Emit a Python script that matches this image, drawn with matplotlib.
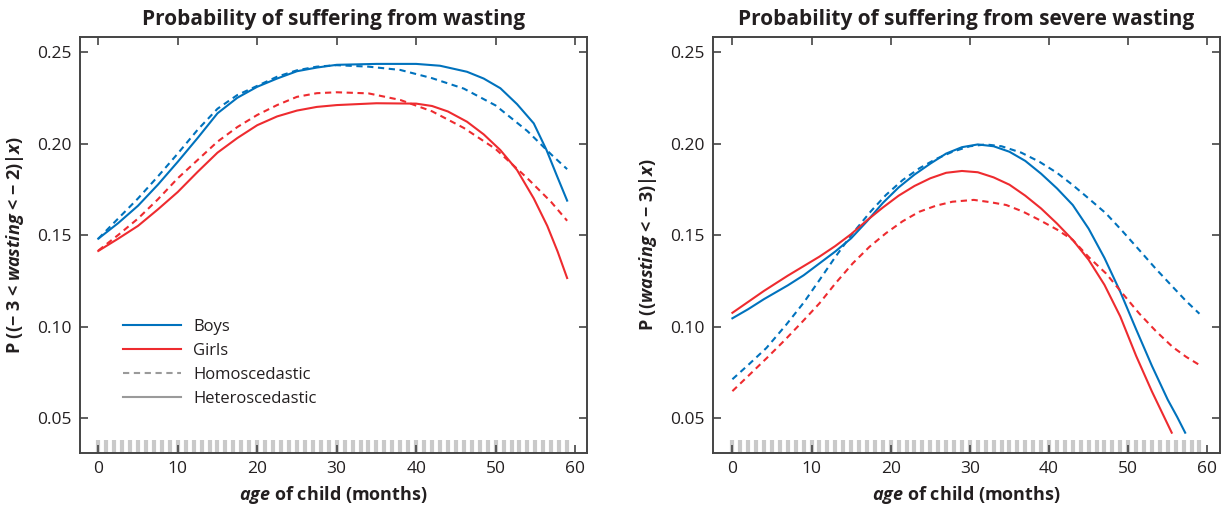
import matplotlib
matplotlib.use("Agg")
import matplotlib.pyplot as plt
from matplotlib.lines import Line2D

plt.rcParams['font.family'] = ['Open Sans', 'DejaVu Sans']
plt.rcParams['mathtext.fontset'] = 'custom'
plt.rcParams['mathtext.rm'] = 'Open Sans'
plt.rcParams['mathtext.bf'] = 'Open Sans:bold'
plt.rcParams['mathtext.it'] = 'Open Sans:italic'
plt.rcParams['mathtext.bfit'] = 'Open Sans:bold:italic'

# ---------------- data ----------------
# Left panel: probability of wasting
w_boys_het_x = [0, 2.5, 5, 7.5, 10, 12.5, 15, 17.5, 20, 22.5, 25, 27.5, 30, 35, 40, 43, 46.4, 48.5, 50.6, 52.7, 54.8, 56.4, 57.7, 59]
w_boys_het_y = [0.148, 0.1565, 0.166, 0.1775, 0.190, 0.203, 0.2165, 0.225, 0.231, 0.2355, 0.2395, 0.2415, 0.243, 0.2435, 0.2435, 0.2425, 0.2392, 0.2355, 0.2302, 0.2215, 0.211, 0.1965, 0.1825, 0.1688]
w_boys_hom_x = [0, 2.5, 5, 7.5, 10, 12.5, 15, 17.5, 20, 22.5, 25, 27.5, 30, 34, 38, 42, 46, 50, 54, 57, 59]
w_boys_hom_y = [0.148, 0.159, 0.170, 0.182, 0.1945, 0.2075, 0.219, 0.2265, 0.2315, 0.2365, 0.240, 0.242, 0.2428, 0.242, 0.2402, 0.2357, 0.230, 0.2208, 0.2068, 0.194, 0.186]
w_girls_het_x = [0, 2.5, 5, 7.5, 10, 12.5, 15, 17.5, 20, 22.5, 25, 27.5, 30, 35, 40, 42, 44, 46.4, 48.5, 50.6, 52.7, 54.8, 56.5, 57.8, 59]
w_girls_het_y = [0.1413, 0.148, 0.155, 0.164, 0.1735, 0.1845, 0.195, 0.203, 0.210, 0.2148, 0.218, 0.220, 0.221, 0.222, 0.2218, 0.2205, 0.2175, 0.2119, 0.205, 0.1964, 0.1855, 0.170, 0.155, 0.141, 0.1265]
w_girls_hom_x = [0, 2.5, 5, 7.5, 10, 12.5, 15, 17.5, 20, 22.5, 25, 27.5, 30, 34, 38, 42, 46, 50, 54, 57, 59]
w_girls_hom_y = [0.1415, 0.150, 0.159, 0.1695, 0.181, 0.191, 0.201, 0.209, 0.2156, 0.221, 0.2255, 0.2275, 0.228, 0.2274, 0.2238, 0.2176, 0.2085, 0.197, 0.181, 0.168, 0.1578]

# Right panel: probability of severe wasting
s_boys_het_x = [0, 2, 4, 7, 9, 11, 13, 15, 17, 19, 21, 23, 25, 27, 29, 31, 33, 35, 37, 39, 41, 43, 45, 47, 49, 51, 53, 55, 56.2, 57.2]
s_boys_het_y = [0.1045, 0.1095, 0.1150, 0.1225, 0.128, 0.1345, 0.141, 0.1482, 0.1575, 0.1675, 0.176, 0.1830, 0.189, 0.1945, 0.198, 0.1995, 0.1985, 0.1955, 0.1905, 0.1835, 0.1755, 0.1664, 0.1535, 0.1375, 0.119, 0.0985, 0.0785, 0.0600, 0.0505, 0.042]
s_boys_hom_x = [0, 2, 4.3, 6.8, 9, 11, 13, 15.2, 17.5, 19.4, 21.5, 23.6, 25.7, 27.8, 30, 32, 34, 36.5, 38.8, 41, 43, 45, 47.2, 49.3, 51.4, 53.5, 55.6, 57.3, 59]
s_boys_hom_y = [0.0712, 0.079, 0.0883, 0.101, 0.113, 0.1254, 0.138, 0.151, 0.163, 0.1719, 0.180, 0.1864, 0.1915, 0.1955, 0.1985, 0.1995, 0.1985, 0.195, 0.190, 0.184, 0.1773, 0.170, 0.1618, 0.152, 0.1418, 0.1315, 0.1218, 0.114, 0.107]
s_girls_het_x = [0, 2, 4, 7, 9, 11, 13, 15, 17, 19, 21, 23, 25, 27, 29, 31, 33, 35, 37, 39, 41, 43, 45, 47, 49, 51, 53, 55.5]
s_girls_het_y = [0.1075, 0.1135, 0.1195, 0.1278, 0.133, 0.1382, 0.144, 0.1505, 0.158, 0.1650, 0.1715, 0.1768, 0.1810, 0.1840, 0.185, 0.1843, 0.1815, 0.1775, 0.1715, 0.1645, 0.1563, 0.1473, 0.1365, 0.1228, 0.1055, 0.0840, 0.0645, 0.042]
s_girls_hom_x = [0, 2, 4.3, 6.6, 8.9, 11, 13, 15.2, 17.3, 19.4, 21.5, 23.6, 25.7, 27.8, 30.5, 32.5, 34.6, 36.7, 38.8, 41, 43, 45, 47.2, 49.3, 51.4, 53.5, 55.6, 57.3, 59]
s_girls_hom_y = [0.0647, 0.073, 0.0826, 0.0925, 0.1029, 0.1127, 0.1235, 0.1345, 0.1435, 0.151, 0.1575, 0.1627, 0.166, 0.1682, 0.1692, 0.168, 0.1664, 0.1628, 0.1582, 0.153, 0.1473, 0.138, 0.129, 0.118, 0.1071, 0.0975, 0.0889, 0.0835, 0.079]

rug_months = list(range(60))

titles = ["Probability of suffering from wasting", "Probability of suffering from severe wasting"]
ylabels = ["P ((\u2212 3 < $\\mathbfit{wasting}$ < \u2212 2)|$\\mathbfit{x}$)",
           "P (($\\mathbfit{wasting}$ < \u2212 3)|$\\mathbfit{x}$)"]
xlabel = "$\\mathbfit{age}$ of child (months)"
xticks = [0, 10, 20, 30, 40, 50, 60]
yticks = [0.05, 0.10, 0.15, 0.20, 0.25]
legend_labels = ["Boys", "Girls", "Homoscedastic", "Heteroscedastic"]

BLUE = "#0072BD"
RED = "#EE2B2F"
GRAY = "#9a9a9a"
RUG = "#c9c9c9"
SPINE = "#444444"
TXT = "#231f20"

fig = plt.figure(figsize=(12.26, 5.08), dpi=100)
W, H = 1226, 508
axL = fig.add_axes([80 / W, 1 - 453 / H, (587 - 80) / W, (453 - 37) / H])
axR = fig.add_axes([713 / W, 1 - 453 / H, (1220 - 713) / W, (453 - 37) / H])

YLO, YHI = 0.0309, 0.2582
panels = [
    (axL, [(w_boys_het_x, w_boys_het_y, BLUE, '-'), (w_boys_hom_x, w_boys_hom_y, BLUE, '--'),
           (w_girls_het_x, w_girls_het_y, RED, '-'), (w_girls_hom_x, w_girls_hom_y, RED, '--')]),
    (axR, [(s_boys_het_x, s_boys_het_y, BLUE, '-'), (s_boys_hom_x, s_boys_hom_y, BLUE, '--'),
           (s_girls_het_x, s_girls_het_y, RED, '-'), (s_girls_hom_x, s_girls_hom_y, RED, '--')]),
]
xl = [(-2.3, 61.5), (-2.45, 61.6)]

for i, (ax, series) in enumerate(panels):
    ax.vlines(rug_months, YLO, 0.0378, colors=RUG, linewidth=3.0, zorder=1)
    for xs, ys, c, ls in series:
        if ls == '--':
            ax.plot(xs, ys, color=c, lw=1.5, ls=(0, (3, 2.2)), zorder=3)
        else:
            ax.plot(xs, ys, color=c, lw=1.5, ls='-', zorder=3)
    ax.set_xlim(*xl[i])
    ax.set_ylim(YLO, YHI)
    ax.set_xticks(xticks)
    ax.set_yticks(yticks)
    ax.set_yticklabels([f"{v:.2f}" for v in yticks])
    ax.tick_params(direction='in', length=6, width=1.2, color=SPINE, labelsize=12.5,
                   labelcolor=TXT, top=True, right=True, pad=6)
    for s in ax.spines.values():
        s.set_color(SPINE)
        s.set_linewidth(1.4)
    ax.set_title(titles[i], fontsize=15, fontweight='bold', color=TXT, pad=9)
    ax.set_xlabel(xlabel, fontsize=13, fontweight='bold', color=TXT, labelpad=5)
    ax.set_ylabel(ylabels[i], fontsize=13, fontweight='bold', color=TXT, labelpad=8)

handles = [Line2D([], [], color=BLUE, lw=1.5),
           Line2D([], [], color=RED, lw=1.5),
           Line2D([], [], color=GRAY, lw=1.5, ls=(0, (3, 2.2))),
           Line2D([], [], color=GRAY, lw=1.5)]
leg = axL.legend(handles, legend_labels, loc='upper left', bbox_to_anchor=(0.085, 0.322),
                 frameon=False, fontsize=12, handlelength=3.5, handletextpad=0.72,
                 labelspacing=0.47, borderaxespad=0, borderpad=0)
for t in leg.get_texts():
    t.set_color(TXT)

fig.savefig("out.png", dpi=100)
